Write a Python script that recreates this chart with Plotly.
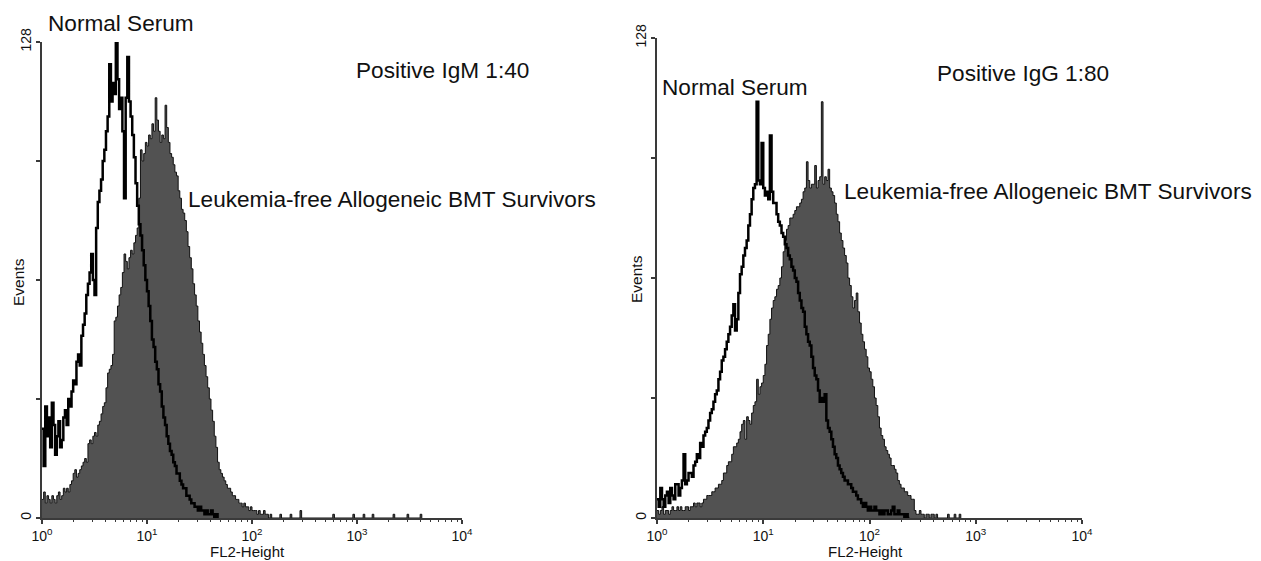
import plotly.graph_objects as go

PAGE_W, PAGE_H = 1261, 561
OFF = 8                                 # default page margin around the plot div
W, H = PAGE_W - 2 * OFF, PAGE_H - OFF
FONT = "Liberation Sans, Arial, sans-serif"

# ---------------- data (FL2-Height channel histograms, 1024 channels over 4 decades) -------------
BIN = 4                 # channel width of one histogram bin
CH_PER_DECADE = 256     # channels per decade

# Left panel: Positive IgM 1:40 -- counts per bin starting at channel 0
left_normal = [24, 14, 30, 22, 27, 19, 31, 25, 17, 22, 26, 19, 21, 27, 29, 25, 32, 30, 34, 37,
               36, 42, 44, 41, 49, 52, 55, 60, 63, 66, 71, 64, 60, 78, 85, 88, 91, 96, 99, 104,
               108, 122, 112, 117, 114, 128, 118, 110, 113, 104, 86, 113, 124, 112, 108, 103, 97, 90, 84, 79,
               76, 72, 68, 64, 61, 57, 53, 48, 46, 42, 40, 36, 34, 30, 27, 25, 22, 20, 18, 17,
               15, 14, 12, 12, 10, 9, 8, 8, 6, 6, 5, 4, 4, 3, 3, 2, 3, 2, 2, 1,
               2, 1, 1, 2, 1, 0, 1, 0]
left_leuk = [5, 7, 4, 6, 5, 4, 6, 5, 4, 6, 7, 5, 6, 8, 7, 8, 7, 9, 10, 12,
             13, 11, 12, 13, 14, 15, 16, 15, 20, 21, 20, 22, 23, 22, 25, 26, 28, 30, 31, 35,
             39, 40, 41, 44, 53, 54, 57, 60, 62, 66, 71, 69, 67, 70, 72, 71, 74, 76, 78, 86,
             99, 96, 98, 101, 100, 103, 102, 106, 104, 113, 107, 104, 101, 103, 102, 111, 105, 101, 98, 97,
             95, 93, 92, 88, 86, 83, 82, 80, 77, 73, 70, 67, 63, 60, 57, 53, 50, 47, 44, 41,
             38, 35, 32, 29, 26, 22, 19, 15, 13, 12, 11, 10, 9, 8, 8, 7, 6, 6, 5, 5,
             4, 4, 3, 4, 3, 3, 2, 3, 2, 2, 2, 1, 2, 1, 1, 2, 1, 1, 0, 1, 0]
left_tail_ch = [580, 605, 629, 709, 758, 783, 805, 856, 890, 922]
left_tail_n = [1, 1, 2, 1, 1, 1, 1, 1, 1, 1]

# Right panel: Positive IgG 1:80
right_normal = [5, 3, 8, 5, 3, 6, 7, 4, 8, 6, 5, 9, 9, 6, 8, 10, 17, 9, 10, 12,
                12, 11, 14, 15, 17, 16, 20, 19, 22, 23, 24, 26, 28, 29, 31, 33, 34, 37, 39, 42,
                43, 45, 47, 49, 51, 54, 57, 50, 53, 60, 65, 67, 70, 72, 74, 78, 81, 85, 88, 89,
                111, 90, 89, 100, 88, 86, 87, 85, 102, 87, 84, 84, 81, 79, 78, 76, 75, 73, 72, 70,
                69, 67, 66, 64, 63, 60, 58, 56, 55, 51, 49, 47, 46, 43, 40, 38, 37, 34, 31, 32,
                31, 33, 26, 24, 23, 21, 19, 17, 16, 14, 13, 12, 11, 10, 10, 9, 9, 8, 7, 7,
                6, 5, 5, 4, 3, 4, 3, 2, 3, 2, 2, 3, 2, 2, 1, 2, 1, 2, 2, 1,
                1, 2, 3, 1, 1, 2, 1, 1, 1, 0, 1, 0, 0]
right_leuk = [2, 1, 2, 3, 1, 2, 2, 1, 2, 3, 2, 2, 3, 2, 3, 2, 2, 3, 3, 2,
              3, 3, 4, 3, 4, 4, 3, 4, 5, 5, 6, 6, 6, 7, 7, 8, 8, 9, 9, 10,
              12, 12, 14, 15, 15, 17, 19, 19, 20, 21, 23, 25, 26, 21, 27, 26, 25, 28, 30, 31,
              37, 33, 35, 36, 38, 41, 46, 49, 53, 56, 58, 59, 61, 62, 64, 67, 71, 74, 77, 78,
              80, 80, 81, 82, 83, 83, 84, 85, 87, 88, 95, 90, 88, 89, 89, 94, 88, 90, 91, 111,
              89, 91, 90, 93, 88, 87, 86, 84, 81, 79, 76, 74, 72, 70, 68, 64, 62, 59, 56, 58,
              60, 55, 52, 49, 47, 45, 43, 40, 39, 37, 35, 32, 30, 27, 24, 22, 21, 19, 18, 17,
              16, 14, 14, 13, 12, 10, 9, 8, 8, 7, 7, 6, 6, 5, 5, 2, 1, 1, 2, 1,
              1, 0, 1, 1, 0, 1, 1, 0, 1, 0]
right_tail_ch = [700, 716, 728]
right_tail_n = [1, 1, 1]

x_tick_vals = [1, 10, 100, 1000, 10000]
x_tick_text = ["10<sup>0</sup>", "10<sup>1</sup>", "10<sup>2</sup>", "10<sup>3</sup>", "10<sup>4</sup>"]
y_tick_vals = [0, 128]
y_tick_text = ["0", "128"]
y_minor_vals = [32, 64, 96]


def hist_xy(counts, tail_ch, tail_n):
    pts = [(i * BIN, c) for i, c in enumerate(counts)]
    for ch, n in zip(tail_ch, tail_n):
        pts.append((ch, n))
        pts.append((ch + BIN, 0))
    pts.sort()
    xs = [10 ** (ch / CH_PER_DECADE) for ch, _ in pts]
    ys = [c for _, c in pts]
    return xs, ys


fig = go.Figure()

panels = [
    ("x", "y", left_normal, left_leuk, left_tail_ch, left_tail_n),
    ("x2", "y2", right_normal, right_leuk, right_tail_ch, right_tail_n),
]
for xa, ya, normal, leuk, tch, tn in panels:
    lx, ly = hist_xy(leuk, tch, tn)
    fig.add_trace(go.Scatter(x=lx, y=ly, xaxis=xa, yaxis=ya, mode="lines",
                             line=dict(color="#111111", width=1, shape="hv"),
                             fill="tozeroy", fillcolor="#525252",
                             name="Leukemia-free Allogeneic BMT Survivors", showlegend=False))
    nx, ny = hist_xy(normal, [], [])
    fig.add_trace(go.Scatter(x=nx, y=ny, xaxis=xa, yaxis=ya, mode="lines",
                             line=dict(color="#000000", width=2.5, shape="hv"),
                             name="Normal Serum", showlegend=False))

minor_vals = [k * 10 ** d for d in range(4) for k in range(2, 10)]
axis_color = "#3a3a3a"


def px_x(p):
    return (p - OFF) / W


def px_y(p):
    return 1 - (p - OFF) / H


def xaxis_cfg(x0, x1, anchor):
    return dict(type="log", range=[0, 4], domain=[px_x(x0), px_x(x1)], anchor=anchor,
                automargin=False,
                showline=True, linecolor=axis_color, linewidth=1.5, mirror=False,
                ticks="outside", ticklen=4, tickwidth=1.5, tickcolor=axis_color,
                tickvals=x_tick_vals, ticktext=x_tick_text,
                tickfont=dict(family=FONT, size=14, color="#111111"),
                minor=dict(tickvals=minor_vals, ticks="outside", ticklen=2, tickwidth=1,
                           tickcolor=axis_color, showgrid=False),
                showgrid=False, zeroline=False, fixedrange=True)


def yaxis_cfg(top_px, anchor):
    return dict(range=[0, 128], domain=[px_y(518), px_y(top_px)], anchor=anchor,
                automargin=False,
                showline=True, linecolor=axis_color, linewidth=1.5,
                ticks="outside", ticklen=4, tickwidth=1.5, tickcolor=axis_color,
                tickvals=y_tick_vals, ticktext=y_tick_text, tickangle=-90,
                tickfont=dict(family=FONT, size=14, color="#111111"),
                minor=dict(tickvals=y_minor_vals, ticks="outside", ticklen=4, tickwidth=1.5,
                           tickcolor=axis_color, showgrid=False),
                showgrid=False, zeroline=False, fixedrange=True)


fig.update_layout(
    template="none",
    width=W, height=H, autosize=False,
    margin=dict(l=0, r=0, t=0, b=0, pad=0, autoexpand=False),
    paper_bgcolor="white", plot_bgcolor="white",
    showlegend=False,
    xaxis=xaxis_cfg(42, 462, "y"),
    yaxis=yaxis_cfg(42, "x"),
    xaxis2=xaxis_cfg(657, 1082, "y2"),
    yaxis2=yaxis_cfg(38, "x2"),
)


def ann(text, xpx, ypx, size=22.6, angle=0):
    fig.add_annotation(text=text, x=px_x(xpx), y=px_y(ypx), xref="paper", yref="paper",
                       xanchor="center", yanchor="middle", showarrow=False, textangle=angle,
                       font=dict(family=FONT, size=size, color="#111111"))


ann("Normal Serum", 121, 24)
ann("Positive IgM 1:40", 442, 71)
ann("Leukemia-free Allogeneic BMT Survivors", 392, 200)
ann("Normal Serum", 735, 88)
ann("Positive IgG 1:80", 1023, 74)
ann("Leukemia-free Allogeneic BMT Survivors", 1048, 191)

ann("Events", 18, 282, size=15.5, angle=-90)
ann("Events", 636, 279, size=15.5, angle=-90)
ann("FL2-Height", 247, 551, size=15)
ann("FL2-Height", 866, 551, size=15)

fig.write_html("out.html")
